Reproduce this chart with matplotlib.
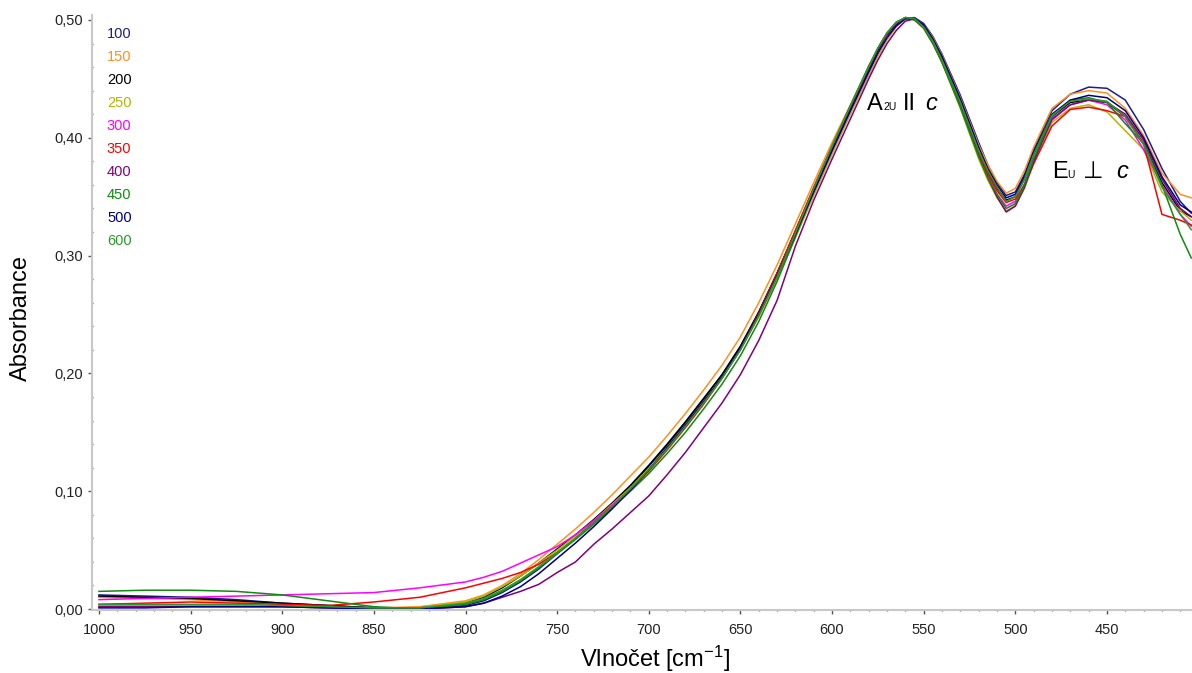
import numpy as np
import matplotlib
matplotlib.use("Agg")
import matplotlib.pyplot as plt
from matplotlib.ticker import MultipleLocator, FuncFormatter

plt.rcParams.update({
    "font.family": ["Liberation Sans", "DejaVu Sans"],
    "font.size": 10.5,
    "mathtext.default": "regular",
})

# wavenumber grid [cm-1] shared by all spectra
wn = [1000, 975, 950, 925, 900, 875, 850, 825, 800, 790, 780, 770, 760, 750, 740,
      730, 720, 710, 700, 690, 680, 670, 660, 650, 640, 630, 620, 610, 600, 590,
      580, 575, 570, 565, 560, 555, 550, 545, 540, 530, 520, 515, 510, 505, 500,
      495, 490, 480, 470, 460, 450, 440, 430, 420, 410, 404]

# absorbance, one list per temperature
a100 = [0.012, 0.011, 0.010, 0.008, 0.005, 0.003, 0.001, 0.000, 0.003, 0.007, 0.014, 0.023, 0.034, 0.047, 0.060,
        0.074, 0.089, 0.104, 0.121, 0.139, 0.158, 0.178, 0.199, 0.223, 0.252, 0.285, 0.320, 0.356, 0.390, 0.423,
        0.456, 0.472, 0.485, 0.495, 0.501, 0.502, 0.497, 0.486, 0.471, 0.436, 0.396, 0.377, 0.362, 0.351, 0.354,
        0.369, 0.390, 0.423, 0.437, 0.443, 0.442, 0.432, 0.407, 0.374, 0.346, 0.336]
a150 = [0.010, 0.009, 0.008, 0.006, 0.004, 0.002, 0.001, 0.002, 0.007, 0.012, 0.020, 0.030, 0.042, 0.055, 0.068,
        0.082, 0.097, 0.113, 0.129, 0.147, 0.166, 0.186, 0.207, 0.231, 0.260, 0.292, 0.327, 0.362, 0.396, 0.428,
        0.460, 0.475, 0.488, 0.496, 0.502, 0.501, 0.496, 0.485, 0.470, 0.434, 0.394, 0.377, 0.363, 0.353, 0.357,
        0.372, 0.392, 0.425, 0.437, 0.440, 0.438, 0.425, 0.402, 0.370, 0.352, 0.349]
a200 = [0.011, 0.010, 0.009, 0.007, 0.005, 0.003, 0.001, 0.001, 0.005, 0.010, 0.018, 0.028, 0.039, 0.051, 0.063,
        0.076, 0.090, 0.105, 0.122, 0.140, 0.159, 0.179, 0.199, 0.223, 0.252, 0.285, 0.321, 0.357, 0.392, 0.425,
        0.458, 0.474, 0.487, 0.496, 0.502, 0.501, 0.495, 0.483, 0.467, 0.430, 0.388, 0.371, 0.357, 0.347, 0.350,
        0.365, 0.386, 0.418, 0.430, 0.432, 0.430, 0.418, 0.395, 0.362, 0.338, 0.333]
a250 = [0.003, 0.003, 0.003, 0.003, 0.002, 0.001, 0.000, 0.001, 0.006, 0.011, 0.019, 0.028, 0.039, 0.050, 0.062,
        0.075, 0.089, 0.103, 0.119, 0.137, 0.156, 0.176, 0.197, 0.220, 0.248, 0.280, 0.315, 0.351, 0.386, 0.420,
        0.453, 0.469, 0.483, 0.494, 0.501, 0.501, 0.494, 0.481, 0.464, 0.425, 0.382, 0.364, 0.349, 0.338, 0.342,
        0.357, 0.378, 0.413, 0.425, 0.428, 0.422, 0.406, 0.390, 0.354, 0.338, 0.330]
a300 = [0.008, 0.009, 0.010, 0.011, 0.012, 0.013, 0.014, 0.018, 0.023, 0.027, 0.032, 0.039, 0.046, 0.053, 0.063,
        0.075, 0.088, 0.102, 0.118, 0.136, 0.155, 0.175, 0.196, 0.220, 0.249, 0.282, 0.318, 0.354, 0.389, 0.423,
        0.456, 0.472, 0.486, 0.495, 0.502, 0.501, 0.494, 0.481, 0.465, 0.427, 0.385, 0.367, 0.352, 0.342, 0.346,
        0.361, 0.382, 0.415, 0.428, 0.432, 0.428, 0.415, 0.390, 0.360, 0.335, 0.325]
a350 = [0.004, 0.005, 0.006, 0.005, 0.004, 0.003, 0.006, 0.010, 0.018, 0.022, 0.026, 0.031, 0.038, 0.048, 0.060,
        0.073, 0.087, 0.101, 0.117, 0.135, 0.154, 0.174, 0.196, 0.221, 0.251, 0.285, 0.321, 0.358, 0.393, 0.427,
        0.460, 0.476, 0.489, 0.498, 0.502, 0.500, 0.493, 0.480, 0.464, 0.428, 0.387, 0.369, 0.355, 0.345, 0.348,
        0.360, 0.378, 0.410, 0.424, 0.426, 0.423, 0.418, 0.395, 0.335, 0.330, 0.326]
a400 = [0.002, 0.002, 0.002, 0.002, 0.002, 0.001, 0.000, 0.000, 0.002, 0.005, 0.010, 0.015, 0.021, 0.031, 0.040,
        0.055, 0.068, 0.082, 0.096, 0.114, 0.133, 0.154, 0.175, 0.199, 0.228, 0.262, 0.308, 0.347, 0.382, 0.416,
        0.450, 0.466, 0.480, 0.491, 0.499, 0.501, 0.494, 0.482, 0.466, 0.428, 0.385, 0.366, 0.350, 0.337, 0.342,
        0.358, 0.380, 0.416, 0.428, 0.432, 0.430, 0.420, 0.398, 0.365, 0.340, 0.333]
a450 = [0.015, 0.016, 0.016, 0.015, 0.012, 0.007, 0.002, 0.000, 0.004, 0.008, 0.015, 0.024, 0.035, 0.047, 0.059,
        0.072, 0.086, 0.100, 0.115, 0.132, 0.150, 0.170, 0.191, 0.215, 0.244, 0.278, 0.316, 0.355, 0.392, 0.427,
        0.461, 0.476, 0.489, 0.498, 0.502, 0.500, 0.493, 0.480, 0.464, 0.426, 0.384, 0.366, 0.352, 0.340, 0.344,
        0.360, 0.382, 0.418, 0.432, 0.434, 0.430, 0.412, 0.395, 0.360, 0.318, 0.298]
a500 = [0.001, 0.001, 0.002, 0.002, 0.002, 0.001, 0.000, 0.000, 0.002, 0.005, 0.011, 0.019, 0.030, 0.043, 0.056,
        0.070, 0.085, 0.101, 0.118, 0.137, 0.156, 0.176, 0.197, 0.221, 0.250, 0.283, 0.318, 0.354, 0.389, 0.423,
        0.456, 0.472, 0.485, 0.495, 0.501, 0.501, 0.496, 0.484, 0.469, 0.433, 0.392, 0.374, 0.360, 0.349, 0.352,
        0.367, 0.388, 0.420, 0.432, 0.436, 0.434, 0.423, 0.400, 0.367, 0.343, 0.337]
a600 = [0.004, 0.004, 0.004, 0.004, 0.003, 0.002, 0.001, 0.001, 0.005, 0.009, 0.016, 0.025, 0.036, 0.048, 0.060,
        0.073, 0.087, 0.102, 0.118, 0.136, 0.155, 0.175, 0.196, 0.220, 0.249, 0.282, 0.319, 0.357, 0.393, 0.427,
        0.460, 0.476, 0.489, 0.498, 0.502, 0.501, 0.494, 0.482, 0.466, 0.430, 0.389, 0.372, 0.358, 0.346, 0.350,
        0.365, 0.386, 0.419, 0.431, 0.433, 0.431, 0.418, 0.394, 0.358, 0.335, 0.322]

labels = ["100", "150", "200", "250", "300", "350", "400", "450", "500", "600"]
series = [a100, a150, a200, a250, a300, a350, a400, a450, a500, a600]
colors = ["#1c1c8c", "#ff9020", "#000000", "#b4b400", "#ff00ff",
          "#ff0000", "#800080", "#108a10", "#000080", "#2a9a2a"]

fig = plt.figure(figsize=(11.92, 6.73), dpi=100)
ax = fig.add_axes([92 / 1192, 63 / 673, 1100 / 1192, 595 / 673])

for y, c in zip(series, colors):
    ax.plot(wn, y, color=c, lw=1.1)

ax.set_xlim(1003.8, 403.6)
ax.set_ylim(-0.0008, 0.5042)

ax.xaxis.set_major_locator(MultipleLocator(50))
ax.xaxis.set_minor_locator(MultipleLocator(10))
ax.yaxis.set_major_locator(MultipleLocator(0.1))
ax.yaxis.set_minor_locator(MultipleLocator(0.02))
ax.yaxis.set_major_formatter(FuncFormatter(lambda v, p: f"{v:.2f}".replace(".", ",")))

for s in ["top", "right"]:
    ax.spines[s].set_visible(False)
for s in ["left", "bottom"]:
    ax.spines[s].set_color("#c8c8c8")
    ax.spines[s].set_linewidth(1.5)

ax.tick_params(which="major", direction="out", length=3, width=1, color="#555555",
               labelsize=10.5, labelcolor="#222222")
ax.tick_params(axis="x", which="major", pad=6)
ax.tick_params(which="minor", direction="inout", length=2, width=1, color="#555555")

ax.set_ylabel("Absorbance", fontsize=17, va="center")
ax.yaxis.set_label_coords(-0.065, 0.49)
ax.set_xlabel("Vlnočet [cm$^{-1}$]", fontsize=17, va="center")
ax.xaxis.set_label_coords(0.512, -0.082)

# legend as coloured labels
for i, (lab, c) in enumerate(zip(labels, colors)):
    ax.text(0.0136, 0.968 - i * 0.0387, lab, color=c, fontsize=10.5,
            transform=ax.transAxes, ha="left", va="center")

# band assignments
ax.text(581.0, 0.4236, "A", fontsize=17, va="baseline")
ax.text(571.7, 0.4236, "2U", fontsize=7.5, va="baseline")
ax.text(561.4, 0.4236, "II", fontsize=17, va="baseline")
ax.text(549.0, 0.4236, "c", fontsize=17, style="italic", va="baseline")
ax.text(480.1, 0.3659, "E", fontsize=17, va="baseline")
ax.text(471.4, 0.3659, "U", fontsize=7.5, va="baseline")
ax.text(463.2, 0.3659, "⊥", fontsize=17, va="baseline", family="DejaVu Sans")
ax.text(445.0, 0.3659, "c", fontsize=17, style="italic", va="baseline")

plt.savefig("out.png", dpi=100)
